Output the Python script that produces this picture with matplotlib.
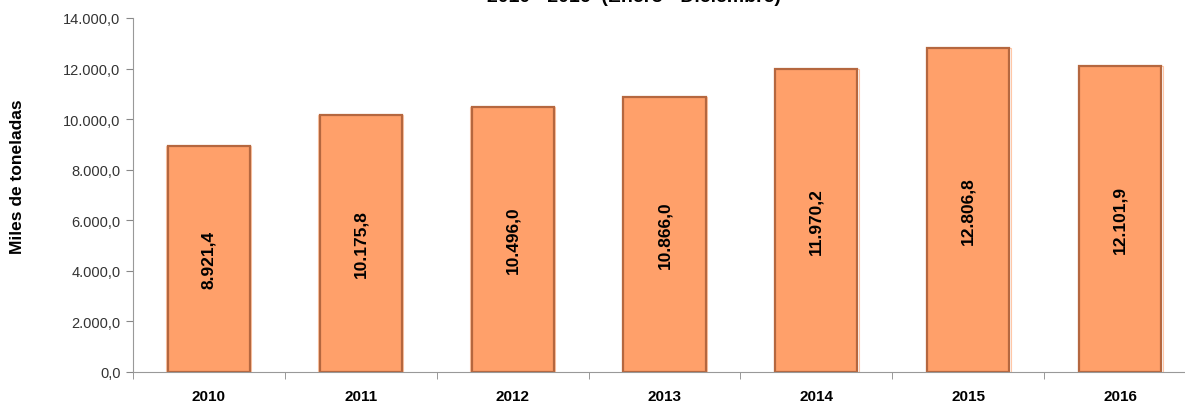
import numpy as np
import matplotlib.pyplot as plt
from matplotlib.ticker import FuncFormatter

# data
years = ['2010', '2011', '2012', '2013', '2014', '2015', '2016']
values = [8921.4, 10175.8, 10496.0, 10866.0, 11970.2, 12806.8, 12101.9]
title = '2010 - 2016  (Enero - Diciembre)'
ylabel = 'Miles de toneladas'


def es_fmt(v, pos=None):
    # 12345.6 -> 12.345,6
    s = f'{v:,.1f}'
    return s.replace(',', 'X').replace('.', ',').replace('X', '.')


plt.rcParams['font.family'] = ['Liberation Sans', 'DejaVu Sans']

fig = plt.figure(figsize=(11.85, 4.02), dpi=100)
ax = fig.add_axes([133 / 1185, 29 / 402, 1063 / 1185, 354 / 402])

x = np.arange(len(years))
bars = ax.bar(x, values, width=0.54, color='#FFA06A', edgecolor='#B5673F',
              linewidth=1.6, zorder=2)
# lighter rim on the left/top like the original bevel
ax.bar(x, values, width=0.56, color='none', edgecolor='#FFC7A6',
       linewidth=0.8, zorder=1)

# labels inside the bars
for xi, v in zip(x, values):
    ax.text(xi, v / 2, es_fmt(v), rotation=90, ha='center', va='center',
            fontsize=12.5, fontweight='bold', color='black')

ax.set_xlim(-0.5, len(years) - 0.5)
ax.set_ylim(0, 14000)
ax.set_yticks(np.arange(0, 14001, 2000))
ax.yaxis.set_major_formatter(FuncFormatter(es_fmt))
ax.set_xticks(x)
ax.set_xticklabels(years, fontweight='bold', fontsize=11)
ax.set_xticks(np.arange(-0.5, len(years), 1), minor=True)
ax.tick_params(axis='x', which='major', length=0, pad=12)
ax.tick_params(axis='x', which='minor', length=5, color='#888888')
ax.tick_params(axis='y', length=5, color='#888888', labelsize=10.5,
               labelcolor='#333333', pad=4)

for s in ['top', 'right']:
    ax.spines[s].set_visible(False)
for s in ['left', 'bottom']:
    ax.spines[s].set_color('#999999')

fig.text(18 / 1185, 0.5 + 24 / 402, ylabel, rotation=90, ha='center',
         va='center', fontsize=12.5, fontweight='bold')
fig.text(0.535, 1.0 + 2 / 402, title, ha='center', va='center',
         fontsize=14, fontweight='bold')

fig.savefig('out.png', dpi=100)
